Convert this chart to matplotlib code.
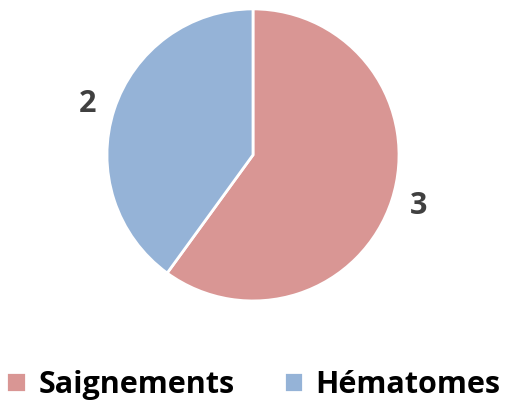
import matplotlib.pyplot as plt

plt.rcParams['font.family'] = ['Open Sans', 'DejaVu Sans']

categories = ['Saignements', 'Hématomes']
values = [3, 2]
colors = ['#D99694', '#95B3D7']

fig = plt.figure(figsize=(5.07, 4.04), dpi=100)
ax = fig.add_axes([0.211, 0.255, 0.576, 0.723])

wedges, texts = ax.pie(values, labels=[str(v) for v in values], colors=colors,
                       startangle=90, counterclock=False, labeldistance=1.13,
                       wedgeprops=dict(edgecolor='white', linewidth=2),
                       textprops=dict(fontsize=22, fontweight='bold', color='#404040'))
ax.set_xlim(-1, 1)
ax.set_ylim(-1, 1)
ax.set_aspect('equal')

fig.legend(wedges, categories, loc='center', bbox_to_anchor=(0.5, 0.047), ncol=2,
           frameon=False, handlelength=0.65, handleheight=0.65, handletextpad=0.4,
           columnspacing=1.6, borderpad=0, labelcolor='black',
           prop=dict(size=22, weight='bold'))

plt.savefig('out.png', dpi=100)
